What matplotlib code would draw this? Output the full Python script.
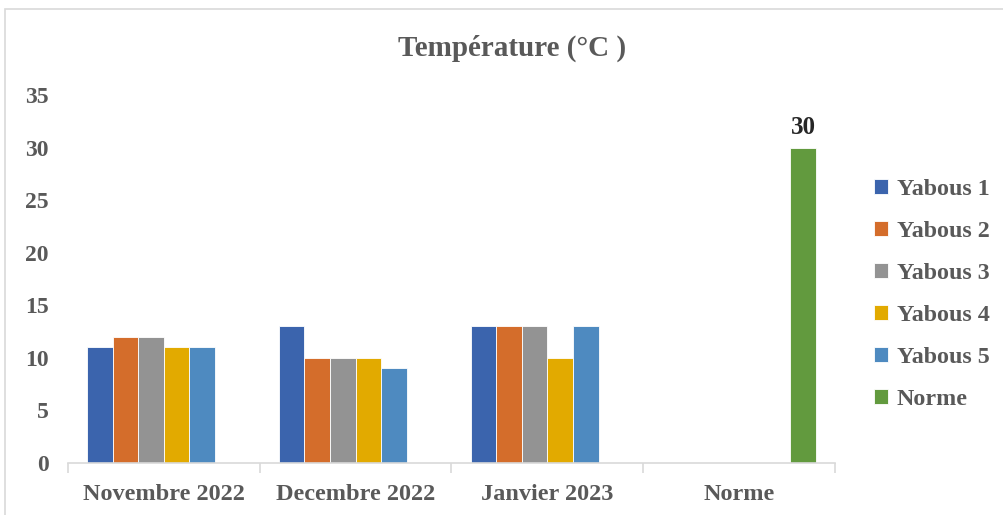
import numpy as np
import matplotlib.pyplot as plt
from matplotlib.patches import Rectangle

# Monthly temperatures per station, plus the reference norm
categories = ["Novembre 2022", "Decembre 2022", "Janvier 2023", "Norme"]
series = ["Yabous 1", "Yabous 2", "Yabous 3", "Yabous 4", "Yabous 5", "Norme"]
yabous1 = [11, 13, 13, np.nan]
yabous2 = [12, 10, 13, np.nan]
yabous3 = [12, 10, 13, np.nan]
yabous4 = [11, 10, 10, np.nan]
yabous5 = [11, 9, 13, np.nan]
norme = [np.nan, np.nan, np.nan, 30]
values = [yabous1, yabous2, yabous3, yabous4, yabous5, norme]
colors = ["#3b64ad", "#d46d2b", "#939393", "#e2aa00", "#4e8ac0", "#629a3e"]

plt.rcParams['font.family'] = ['Liberation Serif', 'DejaVu Serif']
plt.rcParams['font.weight'] = 'bold'
txt = "#595959"

fig = plt.figure(figsize=(10.04, 5.15), dpi=100)
fig.patches.append(Rectangle((5 / 1004, -0.1), 1.2, 1 - 9 / 515 + 0.1,
                             transform=fig.transFigure, fill=False,
                             edgecolor="#d9d9d9", linewidth=1.2))

ax = fig.add_axes([68 / 1004, 52 / 515, (835 - 68) / 1004, (463 - 95) / 515])
x = np.arange(len(categories))
n = len(series)
w = 0.8 / n
for i, (name, vals, c) in enumerate(zip(series, values, colors)):
    pos = x - 0.4 + w * (i + 0.5)
    bars = ax.bar(pos, vals, width=w, color=c, edgecolor="white",
                  linewidth=0.6, label=name)
    if name == "Norme":
        ax.bar_label(bars, labels=["" if np.isnan(v) else f"{v:g}" for v in vals],
                     padding=6, fontsize=18, fontweight='bold', color="#262626")

ax.set_xlim(-0.5, len(categories) - 0.5)
ax.set_ylim(0, 35)
ax.set_yticks(range(0, 36, 5))
ax.set_xticks(x)
ax.set_xticklabels(categories)
ax.set_xticks(np.arange(len(categories) + 1) - 0.5, minor=True)
ax.tick_params(axis='x', which='major', length=0, pad=15, labelsize=17.5, labelcolor=txt)
ax.tick_params(axis='x', which='minor', length=7, width=1.2, color="#d9d9d9")
ax.tick_params(axis='y', length=0, pad=14, labelsize=17, labelcolor=txt)
for s in ["top", "right", "left"]:
    ax.spines[s].set_visible(False)
ax.spines["bottom"].set_color("#d9d9d9")
ax.spines["bottom"].set_linewidth(1.2)

fig.text(512 / 1004, 1 - 48 / 515, "Température (°C )", ha='center', va='center',
         fontsize=21, fontweight='bold', color=txt)

ax.legend(loc='upper left', bbox_to_anchor=(857 / 1004, 1 - 162 / 515),
          bbox_transform=fig.transFigure, frameon=False, fontsize=17.3,
          labelcolor=txt, handlelength=0.6, handleheight=0.6, handletextpad=0.35,
          labelspacing=0.87, borderpad=0.2)

fig.savefig("out.png", dpi=100)
